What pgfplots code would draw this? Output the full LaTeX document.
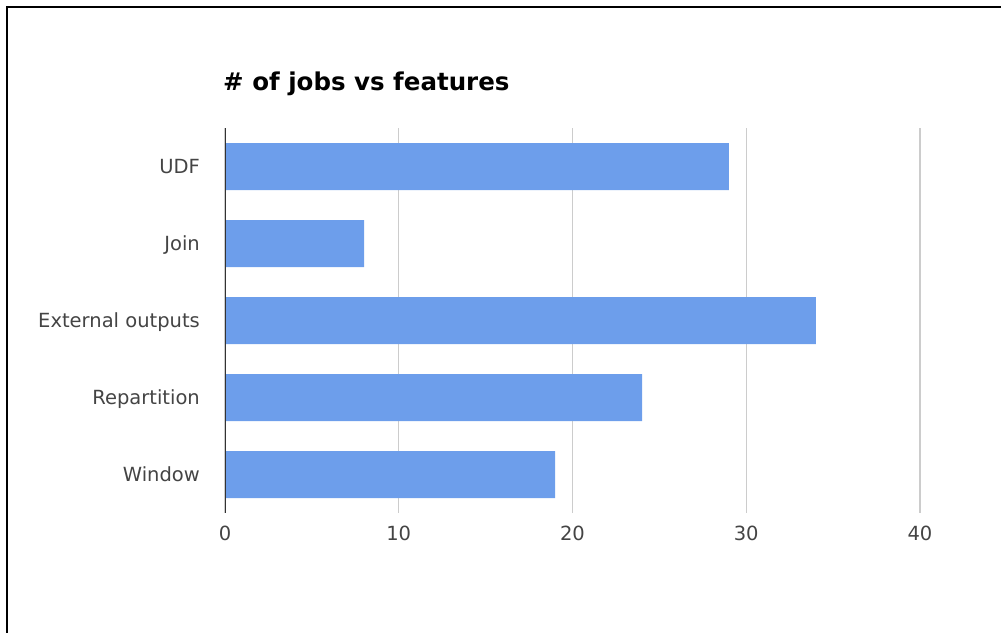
\documentclass[border=0pt]{standalone}
\usepackage{fontspec}
\setmainfont{DejaVu Sans}
\usepackage{pgfplots}
\pgfplotsset{compat=1.18}
\definecolor{barblue}{HTML}{6D9EEB}
\definecolor{gridgray}{HTML}{CCCCCC}
\definecolor{labgray}{HTML}{444444}
\definecolor{axisgray}{HTML}{333333}
\begin{document}
\begin{tikzpicture}[x=1pt,y=1pt]
\path[use as bounding box] (0,0) rectangle (1001,632);
\draw[line width=2pt, line cap=rect] (7,0) -- (7,625) -- (1001,625);
\node[anchor=base west, inner sep=0pt, font=\bfseries\fontsize{24.5}{29}\selectfont] at (223,541) {\# of jobs vs features};
\begin{axis}[
  at={(225pt,119pt)}, anchor=south west,
  width=695pt, height=385pt, scale only axis,
  xbar, bar width=47pt,
  xmin=0, xmax=40, ymin=-0.5, ymax=4.5, y dir=reverse,
  ytick={0,1,2,3,4},
  yticklabels={UDF,Join,External outputs,Repartition,Window},
  xtick={0,10,20,30,40},
  major tick length=0pt,
  axis line style={draw=none},
  xmajorgrids, ymajorgrids=false,
  grid style={draw=gridgray, line width=1.3pt},
  /pgf/number format/assume math mode=true,
  every tick label/.append style={font=\fontsize{19.5}{23}\selectfont, text=labgray, inner sep=0pt},
  xticklabel style={anchor=center, yshift=-20pt},
  yticklabel style={anchor=base east, xshift=-25pt, yshift=-7.2pt},
]
\addplot[draw=none, fill=barblue] coordinates {(29,0) (8,1) (34,2) (24,3) (19,4)};
\draw[axisgray, line width=1.5pt] (axis cs:0,-0.5) -- (axis cs:0,4.5);
\end{axis}
\end{tikzpicture}
\end{document}
